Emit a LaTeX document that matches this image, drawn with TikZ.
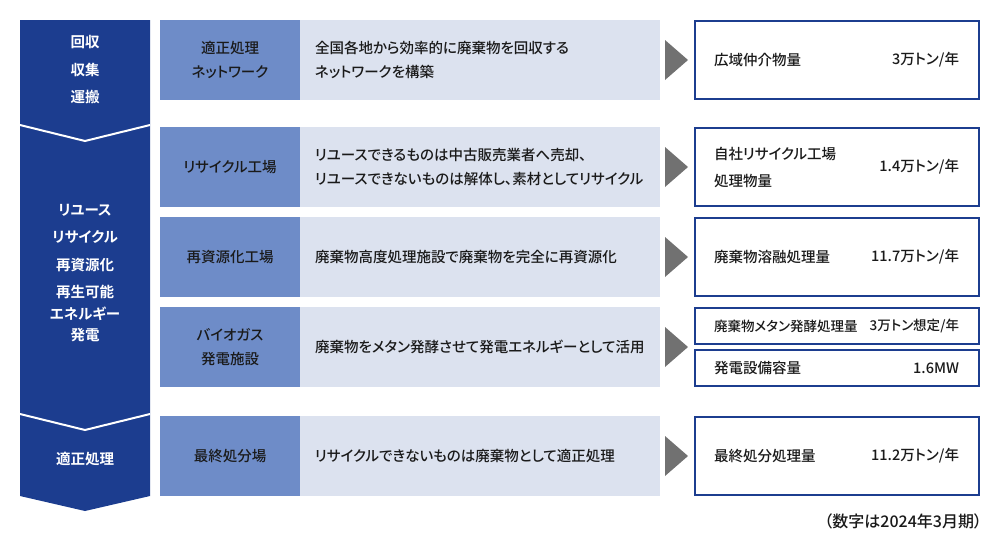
\documentclass[tikz,border=0pt]{standalone}
\usepackage{fontspec}
\setmainfont{Noto Sans CJK JP}[UprightFont=* Medium, BoldFont=* Bold, RawFeature=+palt]
\usepackage{tikz}
\usetikzlibrary{positioning,calc}
\definecolor{navy}{HTML}{1C3D8F}
\definecolor{midblue}{HTML}{6E8CC8}
\definecolor{paleblue}{HTML}{DCE2EF}
\definecolor{pointer}{HTML}{717171}
\definecolor{ink}{HTML}{1A1A1A}

\begin{document}
\begin{tikzpicture}[
    x=1pt, y=-1pt,
    every node/.style={inner sep=0pt, outer sep=0pt, text=ink, font=\fontsize{14.5}{24}\selectfont},
    head/.style={fill=midblue, minimum width=140pt, minimum height=80pt, anchor=north west, align=center},
    desc/.style={fill=paleblue, minimum width=360pt, minimum height=80pt, text width=330pt, align=left, font=\fontsize{14.5}{24}\selectfont},
    result/.style={draw=navy, line width=2pt, fill=white, minimum width=284pt, anchor=north west},
    stagetxt/.style={text=white, align=center, font=\bfseries\fontsize{14.5}{27.5}\selectfont}
  ]
  \useasboundingbox (0,0) rectangle (1000,550);

  % stage column
  \fill[navy] (20,20) -- (150,20) -- (150,496) -- (85,511) -- (20,496) -- cycle;
  \draw[white, line width=2pt] (20,125) -- (85,141) -- (150,125);
  \draw[white, line width=2pt] (20,414) -- (85,430) -- (150,414);
  \node[stagetxt] (stg1) at (85,70) {回収\\収集\\運搬};
  \node[stagetxt] (stg2) at (85,273) {リユース\\リサイクル\\再資源化\\再生可能\\[-6pt]エネルギー\\[-6pt]発電};
  \node[stagetxt] (stg3) at (85,459) {適正処理};

  % rows
  \node[head] (h1) at (160,20) {適正処理\\ネットワーク};
  \node[desc, right=0pt of h1] (d1) {全国各地から効率的に廃棄物を回収する\\ネットワークを構築};
  \node[head] (h2) at (160,127) {リサイクル工場};
  \node[desc, right=0pt of h2] (d2) {リユースできるものは中古販売業者へ売却、\\リユースできないものは解体し、素材としてリサイクル};
  \node[head] (h3) at (160,217) {再資源化工場};
  \node[desc, right=0pt of h3] (d3) {廃棄物高度処理施設で廃棄物を完全に再資源化};
  \node[head] (h4) at (160,307) {バイオガス\\発電施設};
  \node[desc, right=0pt of h4] (d4) {廃棄物をメタン発酵させて発電エネルギーとして活用};
  \node[head] (h5) at (160,416) {最終処分場};
  \node[desc, right=0pt of h5] (d5) {リサイクルできないものは廃棄物として適正処理};

  \foreach \r in {d1,d2,d3,d4,d5}
    \fill[pointer] ($(\r.east)+(5,-20)$) -- ++(23,20) -- ++(-23,20) -- cycle;

  % results
  \node[result, minimum height=78pt] (r1) at (695,21) {};
  \node[right=19pt of r1.west] (r1l) {広域仲介物量};
  \node[left=20pt of r1.east] (r1v) {3万トン/年};
  \node[result, minimum height=78pt] (r2) at (695,128) {};
  \node[right=19pt of r2.west, align=left, font=\fontsize{14.5}{27}\selectfont] (r2l) {自社リサイクル工場\\処理物量};
  \node[left=20pt of r2.east] (r2v) {1.4万トン/年};
  \node[result, minimum height=78pt] (r3) at (695,218) {};
  \node[right=19pt of r3.west] (r3l) {廃棄物溶融処理量};
  \node[left=20pt of r3.east] (r3v) {11.7万トン/年};
  \node[result, minimum height=36pt] (r4a) at (695,308) {};
  \node[right=19pt of r4a.west, font=\fontsize{13.5}{16}\selectfont] (r4al) {廃棄物メタン発酵処理量};
  \node[left=20pt of r4a.east, font=\fontsize{13.5}{16}\selectfont] (r4av) {3万トン想定/年};
  \node[result, minimum height=36pt] (r4b) at (695,350) {};
  \node[right=19pt of r4b.west] (r4bl) {発電設備容量};
  \node[left=20pt of r4b.east] (r4bv) {1.6MW};
  \node[result, minimum height=78pt] (r5) at (695,417) {};
  \node[right=19pt of r5.west] (r5l) {最終処分処理量};
  \node[left=20pt of r5.east] (r5v) {11.2万トン/年};

  \node[anchor=east, font=\fontsize{16}{18}\selectfont] (note) at (982,521) {（数字は2024年3月期）};
\end{tikzpicture}
\end{document}
